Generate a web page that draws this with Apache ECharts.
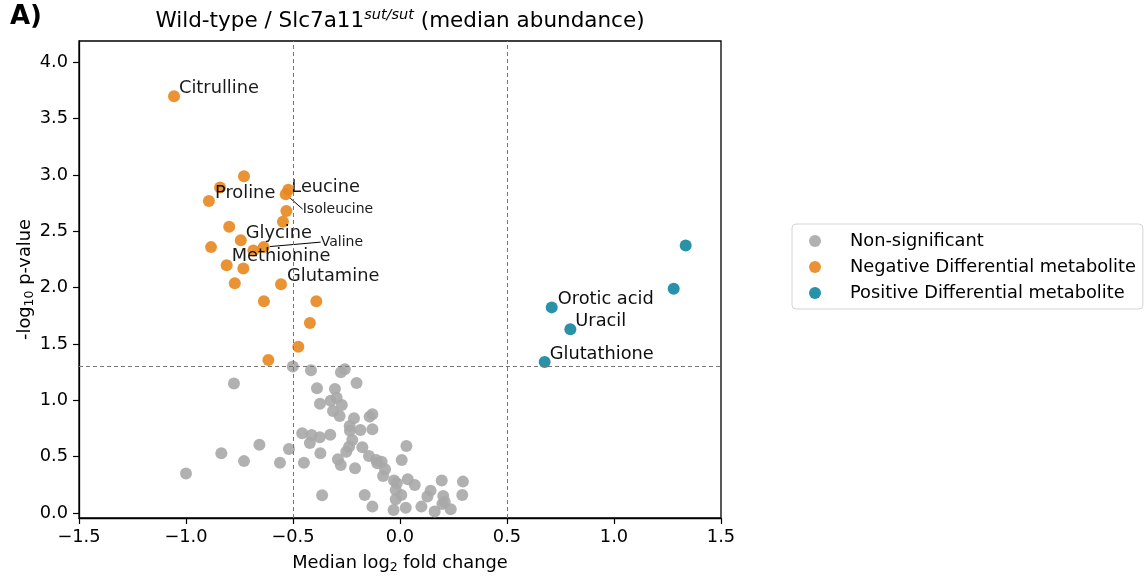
<!DOCTYPE html>
<html>
<head>
<meta charset="utf-8">
<script src="https://cdn.jsdelivr.net/npm/echarts@6/dist/echarts.min.js"></script>
<style>
  html, body { margin: 0; padding: 0; background: #fff; }
  #main { width: 1148px; height: 580px; }
</style>
</head>
<body>
<div id="main"></div>
<script type="text/javascript">
// 非显著代谢物
var nsX = [-0.501, -0.416, -0.776, -0.388, -0.374, -0.324, -0.457, -0.413, -0.375, -0.326,
           -0.421, -0.657, -0.835, -0.519, -0.372, -0.729, -0.561, -0.449, -1.0, -0.364,
           -0.276, -0.258, -0.203, -0.304, -0.296, -0.272, -0.313, -0.282, -0.215, -0.129,
           -0.142, -0.235, -0.185, -0.129, -0.234, -0.223, -0.238, -0.251, -0.176, -0.29,
           -0.277, -0.21, -0.145, -0.111, -0.086, -0.106, -0.07, -0.079, 0.03, 0.008,
           -0.028, -0.015, 0.036, 0.069, -0.02, 0.006, -0.02, -0.165, -0.129, -0.03,
           0.027, 0.1, 0.128, 0.143, 0.195, 0.202, 0.209, 0.198, 0.162, 0.237,
           0.294, 0.291];
var nsY = [1.30, 1.266, 1.15, 1.106, 0.97, 0.997, 0.707, 0.692, 0.672, 0.695,
           0.62, 0.606, 0.53, 0.568, 0.53, 0.46, 0.446, 0.446, 0.35, 0.157,
           1.248, 1.275, 1.153, 1.10, 1.023, 0.958, 0.905, 0.86, 0.84, 0.876,
           0.855, 0.772, 0.736, 0.742, 0.73, 0.648, 0.588, 0.544, 0.583, 0.476,
           0.426, 0.397, 0.506, 0.47, 0.455, 0.441, 0.388, 0.328, 0.594, 0.47,
           0.287, 0.264, 0.30, 0.248, 0.204, 0.16, 0.121, 0.16, 0.056, 0.027,
           0.047, 0.056, 0.145, 0.198, 0.287, 0.151, 0.10, 0.08, 0.012, 0.033,
           0.278, 0.16];

// 下调代谢物
var negX = [-1.056, -0.729, -0.841, -0.893, -0.522, -0.534, -0.531, -0.547, -0.798, -0.744,
            -0.883, -0.637, -0.685, -0.81, -0.732, -0.772, -0.556, -0.636, -0.391, -0.421,
            -0.475, -0.615];
var negY = [3.70, 2.99, 2.89, 2.77, 2.87, 2.83, 2.68, 2.585, 2.54, 2.42,
            2.36, 2.36, 2.33, 2.20, 2.17, 2.04, 2.03, 1.88, 1.88, 1.686,
            1.476, 1.357];
var negNames = ['Citrulline', '', 'Proline', '', 'Leucine', 'Isoleucine', '', '', '', 'Glycine',
                '', 'Valine', '', 'Methionine', '', '', 'Glutamine', '', '', '',
                '', ''];

// 上调代谢物
var posX = [1.335, 1.279, 0.709, 0.796, 0.676];
var posY = [2.375, 1.99, 1.825, 1.63, 1.34];
var posNames = ['', '', 'Orotic acid', 'Uracil', 'Glutathione'];

var fcCut = [-0.5, 0.5];
var pCut = 1.3;
var yTicks = [0, 0.5, 1.0, 1.5, 2.0, 2.5, 3.0, 3.5, 4.0];

// 标签位移(相对点右侧)
var labelShift = {
	'Citrulline': [0, -8], 'Proline': [-10, 6], 'Leucine': [-2, -2], 'Isoleucine': [12, 15],
	'Glycine': [0, -7], 'Valine': [52, -5], 'Methionine': [0, -9], 'Glutamine': [1, -8],
	'Orotic acid': [1, -8], 'Uracil': [0, -8], 'Glutathione': [0, -8]
};
var smallLabels = ['Isoleucine', 'Valine'];

var FONT = 'DejaVu Sans';

function buildData(xs, ys, names) {
	return xs.map(function(x, i) {
		var n = names ? names[i] : '';
		var item = { value: [x, ys[i]], name: n || '' };
		if (n) {
			var small = smallLabels.indexOf(n) >= 0;
			item.label = { show: true, fontSize: small ? 14 : 17.8 };
			item.labelLine = { show: small };
		}
		return item;
	});
}

function fmtTick(v) {
	var s = Math.abs(v).toFixed(1);
	return v < 0 ? '\u2212' + s : s;
}

var chart = echarts.init(document.getElementById('main'));

var baseLabel = {
	show: false, position: 'right', distance: -1,
	color: '#000', fontFamily: FONT, fontSize: 17.8,
	formatter: '{b}'
};
var layoutFn = function(params) {
	var s = labelShift[params.text];
	if (!s) return {};
	return { dx: s[0], dy: s[1] };
};

chart.setOption({
	animation: false,
	textStyle: { fontFamily: FONT },
	title: [{
		text: 'A)', left: 10, top: 4, padding: 0,
		textStyle: { fontFamily: FONT, fontSize: 26, fontWeight: 'bold', color: '#000' }
	}, {
		text: '{n|Wild-type / Slc7a11}{s|sut/sut}{n| (median abundance)}',
		left: 400, top: 8, padding: 0, textAlign: 'center',
		textStyle: {
			fontWeight: 'normal',
			rich: {
				n: { fontFamily: FONT, fontSize: 21.5, fontWeight: 'normal', color: '#000', lineHeight: 26 },
				s: { fontFamily: FONT, fontSize: 14.5, fontWeight: 'normal', fontStyle: 'italic', color: '#000', lineHeight: 15, verticalAlign: 'top' }
			}
		}
	}],
	legend: {
		orient: 'vertical', left: 792, top: 224,
		padding: [8, 7, 7, 17],
		borderColor: '#d4d4d4', borderWidth: 1, borderRadius: 4,
		icon: 'circle', itemWidth: 12, itemHeight: 12, itemGap: 8,
		textStyle: { fontFamily: FONT, fontSize: 17.8, color: '#000', lineHeight: 18, padding: [0, 0, 0, 24] },
		data: ['Non-significant', 'Negative Differential metabolite', 'Positive Differential metabolite']
	},
	grid: {
		left: 79, right: 427, top: 41, bottom: 62,
		outerBoundsMode: 'none', containLabel: false,
		show: true, borderColor: '#000', borderWidth: 1.3, backgroundColor: 'transparent'
	},
	xAxis: {
		type: 'value', min: -1.5, max: 1.5, interval: 0.5,
		name: '{a|Median log}{b|2}{a| fold change}',
		nameLocation: 'middle', nameGap: 34, nameMoveOverlap: false,
		nameTextStyle: {
			rich: {
				a: { fontFamily: FONT, fontSize: 17.8, color: '#000', lineHeight: 22 },
				b: { fontFamily: FONT, fontSize: 12.5, color: '#000', lineHeight: 13, verticalAlign: 'bottom' }
			}
		},
		splitLine: { show: false },
		axisLine: { show: true, onZero: false, lineStyle: { color: '#000', width: 1.3 } },
		axisTick: { show: true, length: 6, lineStyle: { color: '#000', width: 1.2 } },
		axisLabel: { color: '#000', fontFamily: FONT, fontSize: 17.8, margin: 10, formatter: fmtTick }
	},
	yAxis: {
		type: 'value', min: -0.045, max: 4.19,
		name: '{a|-log}{b|10}{a| p-value}',
		nameLocation: 'middle', nameGap: 43, nameRotate: 90, nameMoveOverlap: false,
		nameTextStyle: {
			rich: {
				a: { fontFamily: FONT, fontSize: 17.8, color: '#000', lineHeight: 22 },
				b: { fontFamily: FONT, fontSize: 12.5, color: '#000', lineHeight: 13, verticalAlign: 'bottom' }
			}
		},
		splitLine: { show: false },
		axisLine: { show: true, onZero: false, lineStyle: { color: '#000', width: 1.3 } },
		axisTick: { show: true, length: 6, customValues: yTicks, lineStyle: { color: '#000', width: 1.2 } },
		axisLabel: {
			color: '#000', fontFamily: FONT, fontSize: 17.8, margin: 11,
			customValues: yTicks,
			formatter: function(v) { return v.toFixed(1); }
		}
	},
	series: [{
		name: 'Non-significant', type: 'scatter', symbolSize: 12,
		itemStyle: { color: '#a9a9a9', opacity: 0.9 },
		data: buildData(nsX, nsY, null)
	}, {
		name: 'Negative Differential metabolite', type: 'scatter', symbolSize: 12,
		itemStyle: { color: '#e8871e', opacity: 0.9 },
		label: baseLabel,
		labelLayout: layoutFn,
		labelLine: { show: false, length2: 0, lineStyle: { color: '#000', width: 1 } },
		data: buildData(negX, negY, negNames)
	}, {
		name: 'Positive Differential metabolite', type: 'scatter', symbolSize: 12,
		itemStyle: { color: '#1b8ca3', opacity: 0.95 },
		label: baseLabel,
		labelLayout: layoutFn,
		data: buildData(posX, posY, posNames),
		markLine: {
			silent: true, symbol: 'none', animation: false,
			label: { show: false },
			lineStyle: { color: '#777', width: 1, type: [4, 3] },
			data: [{ xAxis: fcCut[0] }, { xAxis: fcCut[1] }, { yAxis: pCut }]
		}
	}]
});
</script>
</body>
</html>
